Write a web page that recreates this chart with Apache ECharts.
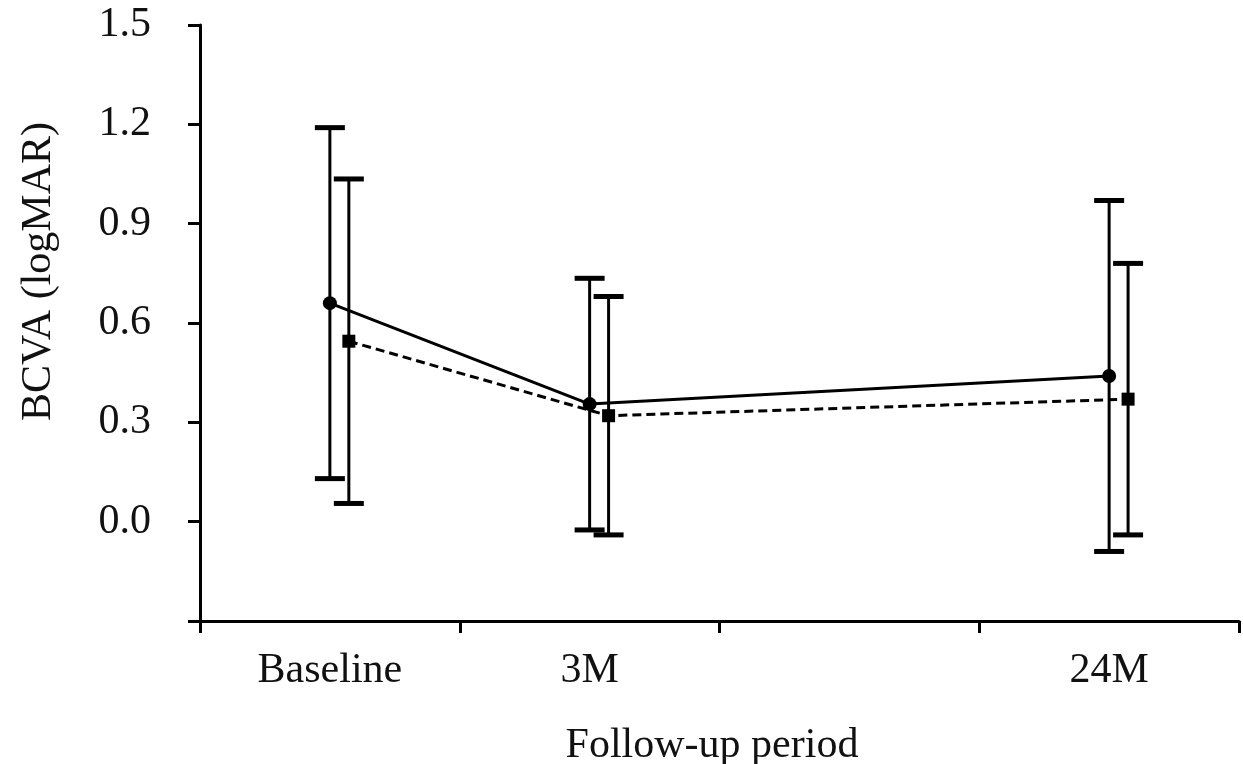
<!DOCTYPE html>
<html>
<head>
<meta charset="utf-8">
<script src="https://cdn.jsdelivr.net/npm/echarts@6/dist/echarts.min.js"></script>
<style>
html,body{margin:0;padding:0;background:#fff;}
#chart{width:1243px;height:764px;}
</style>
</head>
<body>
<div id="chart"></div>
<script>
// ---- data ----
const categories = ['Baseline', '3M', '', '24M'];
const pointCategories = ['Baseline', '3M', '24M'];
const yTicks = [-0.3, 0.0, 0.3, 0.6, 0.9, 1.2, 1.5];
// Series 1 (solid line, circles)
const solidMean = [0.66, 0.355, 0.44];
const solidSD   = [0.53, 0.38, 0.53];
// Series 2 (dashed line, squares)
const dashedMean = [0.545, 0.32, 0.37];
const dashedSD   = [0.49, 0.36, 0.41];

// ---- build ----
const squareShift = 0.073; // horizontal offset of second series within a band
function pos(name, shift) { return categories.indexOf(name) + 0.5 + shift; }
function linePts(means, shift) {
  return pointCategories.map((c, i) => [pos(c, shift), means[i]]);
}
function errPts(means, sds, shift) {
  return pointCategories.map((c, i) => [pos(c, shift), means[i] - sds[i], means[i] + sds[i]]);
}
function errRender(params, api) {
  const x = api.value(0);
  const lo = api.coord([x, api.value(1)]);
  const hi = api.coord([x, api.value(2)]);
  const hw = 15;
  const st = {stroke: '#000', lineWidth: 3};
  const cap = {stroke: '#000', lineWidth: 5};
  return {
    type: 'group',
    children: [
      {type: 'line', shape: {x1: lo[0], y1: lo[1], x2: hi[0], y2: hi[1]}, style: st},
      {type: 'line', shape: {x1: lo[0] - hw, y1: lo[1], x2: lo[0] + hw, y2: lo[1]}, style: cap},
      {type: 'line', shape: {x1: hi[0] - hw, y1: hi[1], x2: hi[0] + hw, y2: hi[1]}, style: cap}
    ]
  };
}

const font = '"Liberation Serif", "Times New Roman", serif';
const chart = echarts.init(document.getElementById('chart'), null, {renderer: 'canvas'});
chart.setOption({
  animation: false,
  backgroundColor: '#fff',
  grid: {left: 200, right: 4, top: 25, bottom: 143, containLabel: false},
  xAxis: [
    {
      type: 'category', data: categories, boundaryGap: true,
      axisLine: {onZero: false, lineStyle: {color: '#000', width: 3}},
      axisTick: {show: true, length: 12, lineStyle: {color: '#000', width: 3}},
      axisLabel: {color: '#111', fontFamily: font, fontSize: 42, margin: 29},
      splitLine: {show: false}
    },
    {
      type: 'value', min: 0, max: categories.length, show: false, splitLine: {show: false}
    }
  ],
  yAxis: {
    type: 'value', min: yTicks[0], max: yTicks[yTicks.length - 1], interval: 0.3,
    axisLine: {show: true, onZero: false, lineStyle: {color: '#000', width: 3}},
    axisTick: {show: true, length: 12, lineStyle: {color: '#000', width: 3}},
    axisLabel: {
      color: '#111', fontFamily: font, fontSize: 42, margin: 49,
      formatter: v => (v < -0.01 ? '' : v.toFixed(1))
    },
    splitLine: {show: false}
  },
  graphic: [
    {type: 'text', left: 18, top: 122, rotation: Math.PI / 2,
     style: {text: 'BCVA (logMAR)', font: '42px ' + font, fill: '#111'}},
    {type: 'text', x: 712, y: 746,
     style: {text: 'Follow-up period', font: '42px ' + font, fill: '#111', align: 'center', verticalAlign: 'middle'}}
  ],
  series: [
    {
      type: 'line', xAxisIndex: 1, data: linePts(solidMean, 0),
      symbol: 'circle', symbolSize: 14,
      lineStyle: {color: '#000', width: 3, type: 'solid'},
      itemStyle: {color: '#000'}, z: 3
    },
    {
      type: 'line', xAxisIndex: 1, data: linePts(dashedMean, squareShift),
      symbol: 'rect', symbolSize: 13,
      lineStyle: {color: '#000', width: 3, type: [9, 5]},
      itemStyle: {color: '#000'}, z: 3
    },
    {
      type: 'custom', xAxisIndex: 1, data: errPts(solidMean, solidSD, 0),
      renderItem: errRender, z: 4
    },
    {
      type: 'custom', xAxisIndex: 1, data: errPts(dashedMean, dashedSD, squareShift),
      renderItem: errRender, z: 4
    }
  ]
});
</script>
</body>
</html>
